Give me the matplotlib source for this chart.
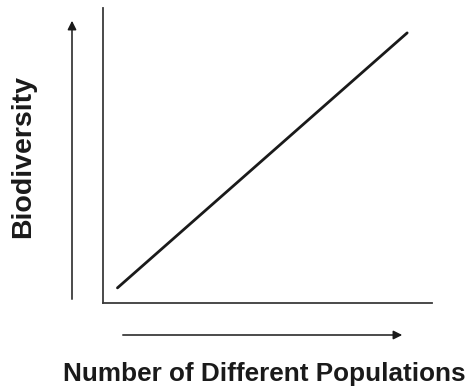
import matplotlib
matplotlib.use("Agg")
import matplotlib.pyplot as plt

# trend line endpoints (relative units)
populations = [0.45, 9.25]
biodiversity = [0.5, 9.15]

x_label = "Number of Different Populations"
y_label = "Biodiversity"

plt.rcParams['font.family'] = ['Liberation Sans', 'DejaVu Sans']

fig = plt.figure(figsize=(4.73, 3.92), dpi=100)
ax = fig.add_axes([0.217, 0.228, 0.696, 0.752])

ax.plot(populations, biodiversity, color="#1a1a1a", linewidth=2.0, solid_capstyle="round")
ax.set_xlim(0, 10)
ax.set_ylim(0, 10)

ax.spines["top"].set_visible(False)
ax.spines["right"].set_visible(False)
for side in ("left", "bottom"):
    ax.spines[side].set_linewidth(1.3)
    ax.spines[side].set_color("#3a3a3a")
ax.set_xticks([])
ax.set_yticks([])

# direction arrows beside the axes
arrow = dict(arrowstyle="-|>", color="#1a1a1a", lw=1.1, mutation_scale=13)
ax.annotate("", xy=(72, 374), xytext=(72, 90), xycoords="figure pixels",
            textcoords="figure pixels", arrowprops=arrow)
ax.annotate("", xy=(405, 57), xytext=(120, 57), xycoords="figure pixels",
            textcoords="figure pixels", arrowprops=arrow)

fig.text(264 / 473, 1 - 374 / 392, x_label, ha="center", va="center",
         fontsize=18.8, fontweight="bold", color="#1a1a1a")
fig.text(23 / 473, 1 - 156 / 392, y_label, ha="center", va="center",
         rotation=90, fontsize=20.5, fontweight="bold", color="#1a1a1a")

fig.savefig("out.png", dpi=100)
